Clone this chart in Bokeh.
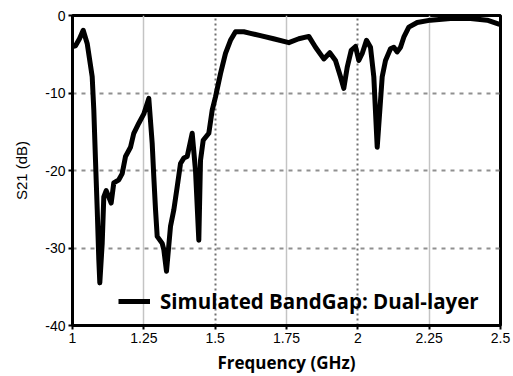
from bokeh.plotting import figure
from bokeh.models import Range1d, FixedTicker, Grid, Legend, LegendItem
from bokeh.embed import file_html
from bokeh.resources import INLINE

freq = [1.000, 1.0105, 1.0245, 1.0375, 1.0515, 1.069, 1.0747, 1.0806, 1.0866, 1.0922,
        1.0957, 1.1041, 1.1097, 1.1181, 1.1356, 1.1447, 1.1623, 1.1742, 1.1858, 1.2033,
        1.2148, 1.2324, 1.2499, 1.2674, 1.2793, 1.2849, 1.2909, 1.2968, 1.3144, 1.3200,
        1.3294, 1.3435, 1.3550, 1.3669, 1.3785, 1.3901, 1.4020, 1.4195, 1.4311, 1.4427,
        1.4486, 1.4581, 1.4777, 1.4896, 1.5012, 1.5187, 1.5362, 1.5537, 1.5713, 1.6004,
        1.6238, 1.6589, 1.7045, 1.7581, 1.7931, 1.8282, 1.8517, 1.8807, 1.9018, 1.9217,
        1.9393, 1.9508, 1.9627, 1.9768, 1.9918, 2.0034, 2.0153, 2.0304, 2.0444, 2.0560,
        2.0679, 2.0854, 2.0970, 2.1145, 2.1261, 2.1380, 2.1496, 2.1611, 2.1787, 2.2081,
        2.2547, 2.3248, 2.3949, 2.4534, 2.4941, 2.5]
s21 = [-4.0, -3.9, -3.0, -1.9, -3.6, -7.9, -12.2, -18.7, -25.0, -31.5,
       -34.5, -29.4, -23.4, -22.6, -24.2, -21.6, -21.2, -20.4, -18.2, -17.0,
       -15.2, -13.9, -12.7, -10.7, -16.5, -20.8, -25.0, -28.5, -29.4, -30.2,
       -33.0, -27.2, -25.1, -22.1, -19.1, -18.4, -18.2, -15.2, -20.0, -29.0,
       -18.7, -16.1, -15.2, -12.2, -10.5, -7.5, -4.9, -3.2, -2.1, -2.1,
       -2.3, -2.6, -3.0, -3.5, -3.0, -2.7, -4.1, -5.6, -4.8, -5.8,
       -7.9, -9.4, -6.7, -4.5, -4.0, -5.8, -4.9, -3.2, -4.1, -7.9,
       -17.0, -7.9, -5.8, -4.3, -4.1, -4.7, -4.1, -2.8, -1.5, -0.9,
       -0.6, -0.4, -0.4, -0.6, -1.1, -1.2]

x_ticks = [1.0, 1.25, 1.5, 1.75, 2.0, 2.25, 2.5]
x_tick_labels = ["1", "1.25", "1.5", "1.75", "2", "2.25", "2.5"]
y_ticks = [-40, -30, -20, -10, 0]
y_tick_labels = ["-40", "-30", "-20", "-10", "0"]
solid_grid_x = [1.25, 1.75, 2.25]
dotted_grid_x = [1.5, 2.0]
dashed_grid_y = [-30, -20, -10]
series_name = "Simulated BandGap: Dual-layer"

p = figure(width=513, height=376, output_backend="svg", toolbar_location=None,
           x_range=Range1d(1, 2.5), y_range=Range1d(-40, 0),
           min_border_left=72, min_border_right=13, min_border_top=15, min_border_bottom=50)
p.background_fill_color = "white"
p.border_fill_color = "white"
p.outline_line_color = "black"
p.outline_line_width = 3
p.xgrid.visible = False
p.ygrid.visible = False

g1 = Grid(dimension=0, ticker=FixedTicker(ticks=solid_grid_x),
          grid_line_color="#c4c4c4", grid_line_width=1.5)
g2 = Grid(dimension=0, ticker=FixedTicker(ticks=dotted_grid_x),
          grid_line_color="#707070", grid_line_width=2, grid_line_dash="2 3")
g3 = Grid(dimension=1, ticker=FixedTicker(ticks=dashed_grid_y),
          grid_line_color="#909090", grid_line_width=2, grid_line_dash="4 5")
for g in (g1, g2, g3):
    p.add_layout(g)

r = p.line(freq, s21, line_color="black", line_width=5, line_join="round")

p.xaxis.ticker = FixedTicker(ticks=x_ticks)
p.xaxis.major_label_overrides = {t: l for t, l in zip(x_ticks, x_tick_labels)}
p.yaxis.ticker = FixedTicker(ticks=y_ticks)
p.yaxis.major_label_overrides = {t: l for t, l in zip(y_ticks, y_tick_labels)}

for ax in (p.xaxis[0], p.yaxis[0]):
    ax.axis_line_width = 3
    ax.axis_line_color = "black"
    ax.major_tick_in = 0
    ax.major_tick_out = 4
    ax.major_tick_line_width = 2
    ax.major_tick_line_color = "black"
    ax.minor_tick_line_color = None
    ax.major_label_text_font = "Liberation Sans"
    ax.major_label_text_font_size = "14px"
    ax.major_label_text_color = "black"
    ax.major_label_standoff = 3
    ax.axis_label_text_color = "black"

p.yaxis.axis_label = "S21 (dB)"
p.yaxis.axis_label_text_font = "Liberation Sans"
p.yaxis.axis_label_text_font_style = "normal"
p.yaxis.axis_label_text_font_size = "15px"
p.yaxis.axis_label_standoff = 12

p.xaxis.axis_label = "Frequency (GHz)"
p.xaxis.axis_label_text_font = "Open Sans"
p.xaxis.axis_label_text_font_style = "bold"
p.xaxis.axis_label_text_font_size = "17px"
p.xaxis.axis_label_standoff = 5

legend = Legend(items=[LegendItem(label=series_name, renderers=[r])],
                location=(46, 10), border_line_color=None, background_fill_alpha=0,
                padding=0, margin=0, glyph_width=32, label_standoff=10,
                label_text_font="Open Sans", label_text_font_style="bold",
                label_text_font_size="20.5px", label_text_color="black")
p.add_layout(legend)

open("out.html", "w").write(file_html(p, INLINE))
